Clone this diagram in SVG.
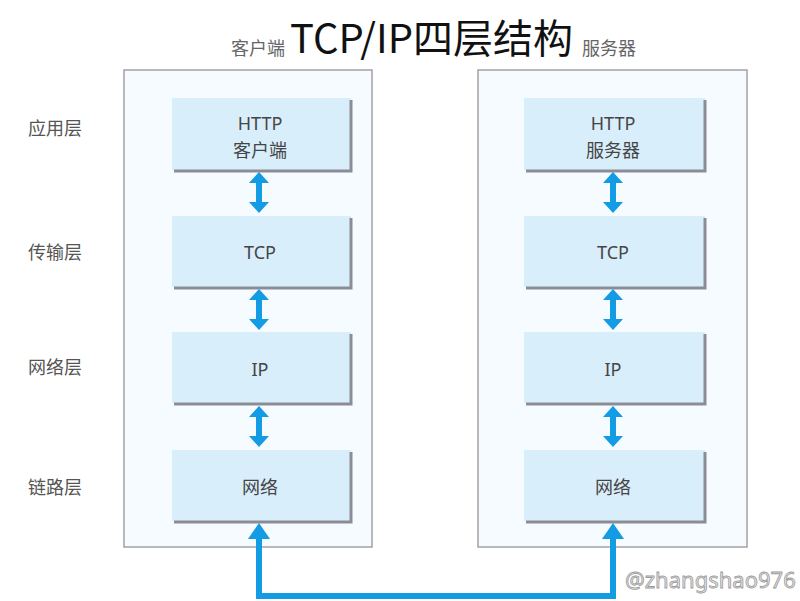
<svg xmlns="http://www.w3.org/2000/svg" width="800" height="601" viewBox="0 0 800 601">
<defs>
<style>
.cjk{font-family:"Noto Sans CJK SC","Noto Sans",sans-serif}
.outer{fill:#f5fbff;stroke:#a2a2a6;stroke-width:1.5}
.inner{fill:#d9eefb}
.shadow{fill:none;stroke:#8c8c96;stroke-width:3}
.lbl{font-family:"Noto Sans","Noto Sans CJK SC",sans-serif;font-size:18px;fill:#454545;text-anchor:middle}
.side{font-family:"Noto Sans CJK SC",sans-serif;font-size:18px;fill:#555}
.dbl{fill:#139be4}
.link{fill:none;stroke:#139be4;stroke-width:6}
</style>
<path id="dblarrow" d="M0 0 L10 11 H3 V30 H10 L0 41 L-10 30 H-3 V11 H-10 Z"/>
<path id="uphead" d="M0 0 L11 16 H-11 Z"/>
</defs>
<rect width="800" height="601" fill="#ffffff"/>
<g id="title">
<text class="cjk" x="290" y="53" font-size="40" fill="#111">TCP/IP四层结构</text>
<text class="cjk" x="231" y="55" font-size="18" fill="#666">客户端</text>
<text class="cjk" x="582" y="55" font-size="18" fill="#666">服务器</text>
</g>
<g id="layer-labels">
<text class="side" x="28" y="135">应用层</text>
<text class="side" x="28" y="259">传输层</text>
<text class="side" x="28" y="374">网络层</text>
<text class="side" x="28" y="494">链路层</text>
</g>
<g id="client">
<rect class="outer" x="124" y="70" width="248" height="477"/>
</g>
<g id="server">
<rect class="outer" x="478" y="70" width="269" height="477"/>
</g>
<g id="client-http">
<rect class="inner" x="172" y="98" width="179" height="72"/>
<path class="shadow" d="M351 100 V171 H174"/>
<text class="lbl" x="260" y="130">HTTP</text>
<text class="lbl" x="260" y="157">客户端</text>
</g>
<g id="client-tcp">
<rect class="inner" x="172" y="216" width="179" height="71"/>
<path class="shadow" d="M351 218 V288 H174"/>
<text class="lbl" x="260" y="259">TCP</text>
</g>
<g id="client-ip">
<rect class="inner" x="172" y="332" width="179" height="71"/>
<path class="shadow" d="M351 334 V404 H174"/>
<text class="lbl" x="260" y="376">IP</text>
</g>
<g id="client-net">
<rect class="inner" x="172" y="450" width="179" height="71"/>
<path class="shadow" d="M351 452 V522 H174"/>
<text class="lbl" x="260" y="494">网络</text>
</g>
<g id="server-http">
<rect class="inner" x="524" y="98" width="181" height="72"/>
<path class="shadow" d="M705 100 V171 H526"/>
<text class="lbl" x="613" y="130">HTTP</text>
<text class="lbl" x="613" y="157">服务器</text>
</g>
<g id="server-tcp">
<rect class="inner" x="524" y="216" width="181" height="71"/>
<path class="shadow" d="M705 218 V288 H526"/>
<text class="lbl" x="613" y="259">TCP</text>
</g>
<g id="server-ip">
<rect class="inner" x="524" y="332" width="181" height="71"/>
<path class="shadow" d="M705 334 V404 H526"/>
<text class="lbl" x="613" y="376">IP</text>
</g>
<g id="server-net">
<rect class="inner" x="524" y="450" width="181" height="71"/>
<path class="shadow" d="M705 452 V522 H526"/>
<text class="lbl" x="613" y="494">网络</text>
</g>
<g id="connectors">
<use href="#dblarrow" class="dbl" x="259" y="172"/>
<use href="#dblarrow" class="dbl" x="259" y="289"/>
<use href="#dblarrow" class="dbl" x="259" y="406"/>
<use href="#dblarrow" class="dbl" x="613" y="172"/>
<use href="#dblarrow" class="dbl" x="613" y="289"/>
<use href="#dblarrow" class="dbl" x="613" y="406"/>
<path class="link" d="M259 536 V596 H613 V536"/>
<use href="#uphead" class="dbl" x="259" y="523"/>
<use href="#uphead" class="dbl" x="613" y="523"/>
</g>
<g id="watermark">
<text x="625" y="588" font-family="Noto Sans, sans-serif" font-size="22" fill="#e6e6e6" stroke="#9a9a9a" stroke-width="0.8">@zhangshao976</text>
</g>
</svg>
